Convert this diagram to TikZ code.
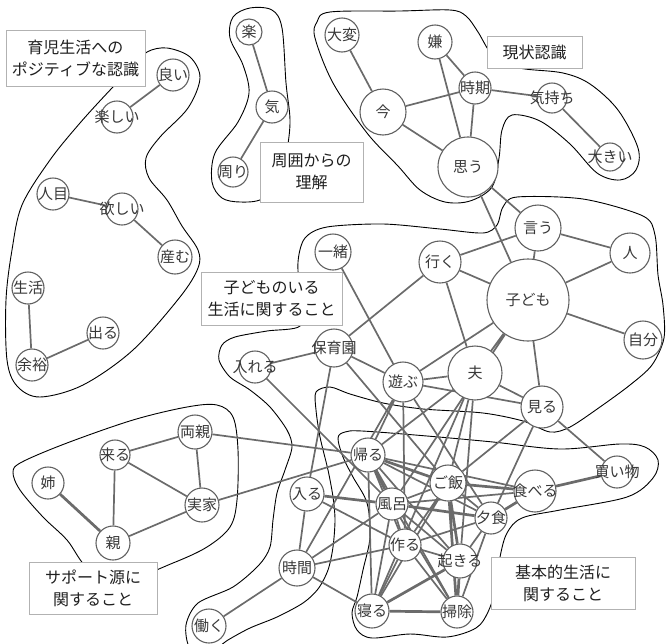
\documentclass[tikz,border=0pt]{standalone}
\usepackage{fontspec}
\setmainfont{Noto Sans CJK JP}
\usetikzlibrary{backgrounds}
\newcommand\mynd[4]{\node[nd,minimum size=#3*2pt] (#1) at (#2) {}; \node[nt] (#1t) at (#1) {#4};}
\begin{document}
\begin{tikzpicture}[x=1pt,y=-1pt,
  nd/.style={circle,draw=black!62,line width=1.1pt,fill=white,inner sep=0pt},
  nt/.style={inner sep=0pt,font=\fontsize{15}{15}\selectfont,text=black!78},
  ed/.style={draw=black!58,line width=1.7pt},
  edt/.style={draw=black!58,line width=2.7pt},
  blob/.style={draw=black,line width=0.9pt},
  lbox/.style={draw=black!30,line width=0.9pt,fill=white,align=center,font=\fontsize{16}{22}\selectfont,text=black!88,inner sep=0pt}
]
\useasboundingbox (0,0) rectangle (666,643);
% ---- nodes ----
\mynd{yoi}{173,75}{16}{良い}
\mynd{tanoshii}{117,117}{16}{楽しい}
\mynd{hitome}{53,194}{16}{人目}
\mynd{hoshii}{122,209}{16}{欲しい}
\mynd{umu}{175,257}{17}{産む}
\mynd{seikatsu}{28,288}{16}{生活}
\mynd{deru}{103,333}{16}{出る}
\mynd{yoyu}{32,365}{16}{余裕}
\mynd{raku}{249,32}{13}{楽}
\mynd{ki}{272,107}{16}{気}
\mynd{mawari}{233,172}{15}{周り}
\mynd{taihen}{342,35}{17}{大変}
\mynd{iya}{435,42}{17}{嫌}
\mynd{ima}{383,112}{23}{今}
\mynd{jiki}{475,88}{16}{時期}
\mynd{kimochi}{552,98}{15}{気持ち}
\mynd{omou}{468,167}{30}{思う}
\mynd{ookii}{610,157}{14}{大きい}
\mynd{iu}{538,228}{23}{言う}
\mynd{iku}{440,262}{21}{行く}
\mynd{issho}{333,252}{18}{一緒}
\mynd{hito}{630,253}{20}{人}
\mynd{kodomo}{528,300}{41}{子ども}
\mynd{jibun}{643,340}{19}{自分}
\mynd{hoikuen}{334,348}{19}{保育園}
\mynd{ireru}{255,367}{16}{入れる}
\mynd{asobu}{403,382}{20}{遊ぶ}
\mynd{otto}{475,373}{27}{夫}
\mynd{miru}{542,407}{21}{見る}
\mynd{kaeru}{368,455}{17}{帰る}
\mynd{gohan}{448,483}{18}{ご飯}
\mynd{kaimono}{617,472}{16}{買い物}
\mynd{taberu}{535,491}{21}{食べる}
\mynd{hairu}{307,494}{17}{入る}
\mynd{furo}{392,504}{16}{風呂}
\mynd{yushoku}{491,518}{16}{夕食}
\mynd{tsukuru}{405,545}{16}{作る}
\mynd{okiru}{460,561}{17}{起きる}
\mynd{jikan}{297,568}{18}{時間}
\mynd{neru}{372,611}{17}{寝る}
\mynd{souji}{457,612}{16}{掃除}
\mynd{hataraku}{209,626}{17}{働く}
\mynd{ryoshin}{195,432}{17}{両親}
\mynd{kuru}{115,455}{15}{来る}
\mynd{ane}{48,483}{16}{姉}
\mynd{jikka}{202,505}{17}{実家}
\mynd{oya}{113,543}{17}{親}
% ---- background: blobs and edges ----
\begin{pgfonlayer}{background}
\draw[blob] plot[smooth cycle,tension=0.55] coordinates {(147,52) (167,48) (190,57) (200,78) (188,108) (160,137) (146,158) (149,178) (167,200) (182,226) (198,250) (198,268) (180,297) (133,350) (83,385) (40,397) (17,386) (7,360) (6,300) (12,250) (22,205) (50,160) (80,123) (112,88) (132,68)};
\draw[blob] plot[smooth cycle,tension=0.55] coordinates {(233,17) (250,8) (272,10) (282,28) (286,83) (290,120) (287,150) (280,180) (262,199) (240,202) (222,198) (212,182) (215,153) (238,122) (249,93) (243,65) (230,38)};
\draw[blob] plot[smooth cycle,tension=0.55] coordinates {(317,22) (330,12) (400,11) (450,10) (466,16) (478,32) (490,52) (505,64) (525,69) (563,73) (590,84) (618,110) (638,148) (636,170) (620,180) (597,173) (570,144) (540,121) (512,115) (502,130) (499,158) (492,187) (470,201) (445,202) (420,190) (398,166) (367,133) (333,83) (315,38)};
\draw[blob] plot[smooth cycle,tension=0.5] coordinates {(300,300) (298,262) (305,238) (327,227) (383,224) (440,229) (483,233) (497,225) (503,207) (517,197) (583,199) (643,216) (655,235) (658,275) (663,305) (664,338) (652,365) (630,385) (600,407) (570,427) (550,432) (523,421) (483,413) (423,409) (383,403) (350,394) (330,387) (316,392) (316,410) (320,437) (328,470) (333,497) (335,520) (333,547) (328,570) (318,589) (303,603) (277,617) (250,628) (228,640) (210,652) (190,648) (186,625) (198,603) (233,587) (259,565) (270,547) (273,520) (277,493) (285,470) (292,447) (287,430) (270,407) (250,390) (230,377) (219,360) (222,345) (235,337) (267,331) (300,326)};
\draw[blob] plot[smooth cycle,tension=0.55] coordinates {(338,438) (345,432) (362,431) (427,436) (493,442) (560,449) (620,444) (645,447) (658,460) (653,478) (627,497) (560,510) (522,518) (507,533) (500,557) (495,590) (488,612) (476,628) (447,637) (410,634) (372,638) (357,630) (352,613) (357,597) (363,570) (370,537) (367,503) (353,477) (343,457)};
\draw[blob] plot[smooth cycle,tension=0.55] coordinates {(13,472) (22,462) (67,443) (133,420) (187,407) (217,405) (233,417) (238,450) (237,500) (230,527) (207,547) (173,563) (130,578) (90,570) (67,540) (43,517) (20,490)};
% edges
\draw[ed] (yoi)--(tanoshii) (hitome)--(hoshii) (hoshii)--(umu) (seikatsu)--(yoyu) (yoyu)--(deru);
\draw[ed] (raku)--(ki) (ki)--(mawari);
\draw[ed] (taihen)--(ima) (ima)--(jiki) (ima)--(omou) (iya)--(jiki) (iya)--(omou) (jiki)--(omou) (jiki)--(kimochi) (kimochi)--(ookii);
\draw[ed] (omou)--(kodomo) (omou)--(iu);
\draw[ed] (iu)--(iku) (iu)--(hito) (iu)--(kodomo) (hito)--(kodomo) (kodomo)--(jibun) (kodomo)--(iku) (kodomo)--(miru) (kodomo)--(otto) (kodomo)--(asobu) (kodomo)--(furo);
\draw[ed] (iku)--(hoikuen) (iku)--(otto) (issho)--(asobu) (hoikuen)--(ireru) (hoikuen)--(asobu) (hoikuen)--(hairu) (hoikuen)--(gohan) (asobu)--(otto) (asobu)--(miru) (otto)--(miru);
\draw[ed] (ireru)--(furo) (asobu)--(kaeru) (asobu)--(jikan) (asobu)--(tsukuru) (asobu)--(yushoku);
\draw[ed] (otto)--(kaeru) (otto)--(gohan) (otto)--(neru) (otto)--(okiru);
\draw[ed] (miru)--(gohan) (miru)--(yushoku) (miru)--(kaimono);
\draw[ed] (kuru)--(ryoshin) (kuru)--(jikka) (kuru)--(oya) (ryoshin)--(jikka) (oya)--(jikka) (ryoshin)--(kaeru) (jikka)--(kaeru);
\draw[edt] (ane)--(oya);
\draw[ed] (jikan)--(hataraku) (jikan)--(hairu) (jikan)--(neru) (jikan)--(furo) (jikan)--(tsukuru) (hairu)--(tsukuru);
\draw[edt] (hairu)--(furo);
\draw[ed] (kaeru)--(yushoku) (kaeru)--(taberu) (kaeru)--(okiru) (kaeru)--(souji) (kaeru)--(neru) (kaeru)--(tsukuru);
\draw[edt] (kaeru)--(gohan) (kaeru)--(furo);
\draw[ed] (furo)--(gohan) (furo)--(tsukuru) (furo)--(okiru) (furo)--(neru) (furo)--(souji) (furo)--(taberu);
\draw[edt] (furo)--(yushoku);
\draw[ed] (gohan)--(yushoku) (gohan)--(tsukuru) (gohan)--(neru);
\draw[edt] (gohan)--(taberu) (gohan)--(okiru) (gohan)--(souji);
\draw[ed] (yushoku)--(tsukuru) (yushoku)--(okiru) (yushoku)--(souji) (tsukuru)--(neru) (tsukuru)--(souji) (tsukuru)--(okiru);
\draw[edt] (yushoku)--(taberu) (okiru)--(neru) (okiru)--(souji) (neru)--(souji) (taberu)--(kaimono);
\end{pgfonlayer}
% ---- label boxes ----
\node[lbox,minimum width=139pt,minimum height=56pt] (b1) at (75.5,58) {育児生活への\\ポジティブな認識};
\node[lbox,minimum width=103pt,minimum height=60pt] (b2) at (311.5,172) {周囲からの\\理解};
\node[lbox,minimum width=95pt,minimum height=32pt] (b3) at (534.5,52) {現状認識};
\node[lbox,minimum width=141pt,minimum height=53pt] (b4) at (271.5,298.5) {子どものいる\\生活に関すること};
\node[lbox,minimum width=128pt,minimum height=52pt] (b5) at (93,588) {サポート源に\\関すること};
\node[lbox,minimum width=144pt,minimum height=52pt] (b6) at (563,583) {基本的生活に\\関すること};
\end{tikzpicture}
\end{document}
